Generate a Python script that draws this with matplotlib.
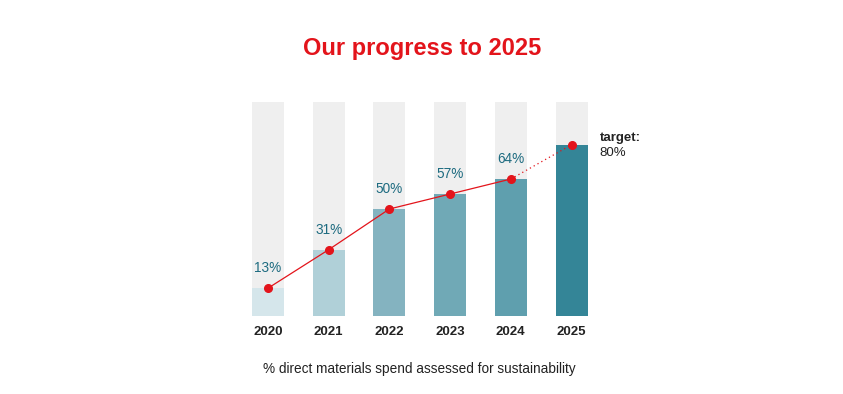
import matplotlib.pyplot as plt

plt.rcParams['font.family'] = ['Liberation Sans', 'DejaVu Sans']

years = ['2020', '2021', '2022', '2023', '2024', '2025']
values = [13, 31, 50, 57, 64, 80]
labels = ['13%', '31%', '50%', '57%', '64%']
bar_colors = ['#d5e6eb', '#b0d0d8', '#84b3c0', '#70a9b6', '#5f9fae', '#348597']

red = '#e3141b'
teal = '#1d6b80'
grey_bg = '#efefef'

fig = plt.figure(figsize=(8.43, 3.94), dpi=100)
ax = fig.add_axes([0, 0, 1, 1])
# map data -> pixels: bar i centre at 268 + 60.7*i px, 0% at 316px from top, 2.14px per %
px_x = 60.7
px_y = 2.14
xmin = -268 / px_x
ax.set_xlim(xmin, xmin + 843 / px_x)
ymin = -78 / px_y
ax.set_ylim(ymin, ymin + 394 / px_y)
ax.axis('off')

x = list(range(len(years)))
w = 32 / px_x

# background bars (100%)
ax.bar(x, [100] * len(x), width=w, color=grey_bg, zorder=1)
ax.bar(x, values, width=w, color=bar_colors, zorder=2)

# progress line
ax.plot(x[:5], values[:5], color=red, lw=0.9, zorder=3)
ax.plot(x[4:], values[4:], color=red, lw=0.9, ls=(0, (1, 2.5)), zorder=3)
ax.plot(x, values, 'o', color=red, ms=5.5, zorder=4)

for i, lab in enumerate(labels):
    ax.text(x[i], values[i] + 20 / px_y, lab, ha='center', va='center',
            color=teal, fontsize=9.8)

for i, yr in enumerate(years):
    ax.text(x[i], -16 / px_y, yr, ha='center', va='center',
            color='#222222', fontsize=9.5, fontweight='bold')

ax.text(x[5] + 28 / px_x, values[5] + 7 / px_y, 'target:', ha='left', va='center',
        color='#222222', fontsize=9.5, fontweight='bold')
ax.text(x[5] + 28 / px_x, values[5] - 8 / px_y, '80%', ha='left', va='center',
        color='#222222', fontsize=9.5)

fig.text(422 / 843, 1 - 48 / 394, 'Our progress to 2025', ha='center', va='center',
         color=red, fontsize=17, fontweight='bold')
fig.text(419 / 843, 1 - 369 / 394, '% direct materials spend assessed for sustainability',
         ha='center', va='center', color='#222222', fontsize=9.8)

fig.savefig('out.png', dpi=100)
